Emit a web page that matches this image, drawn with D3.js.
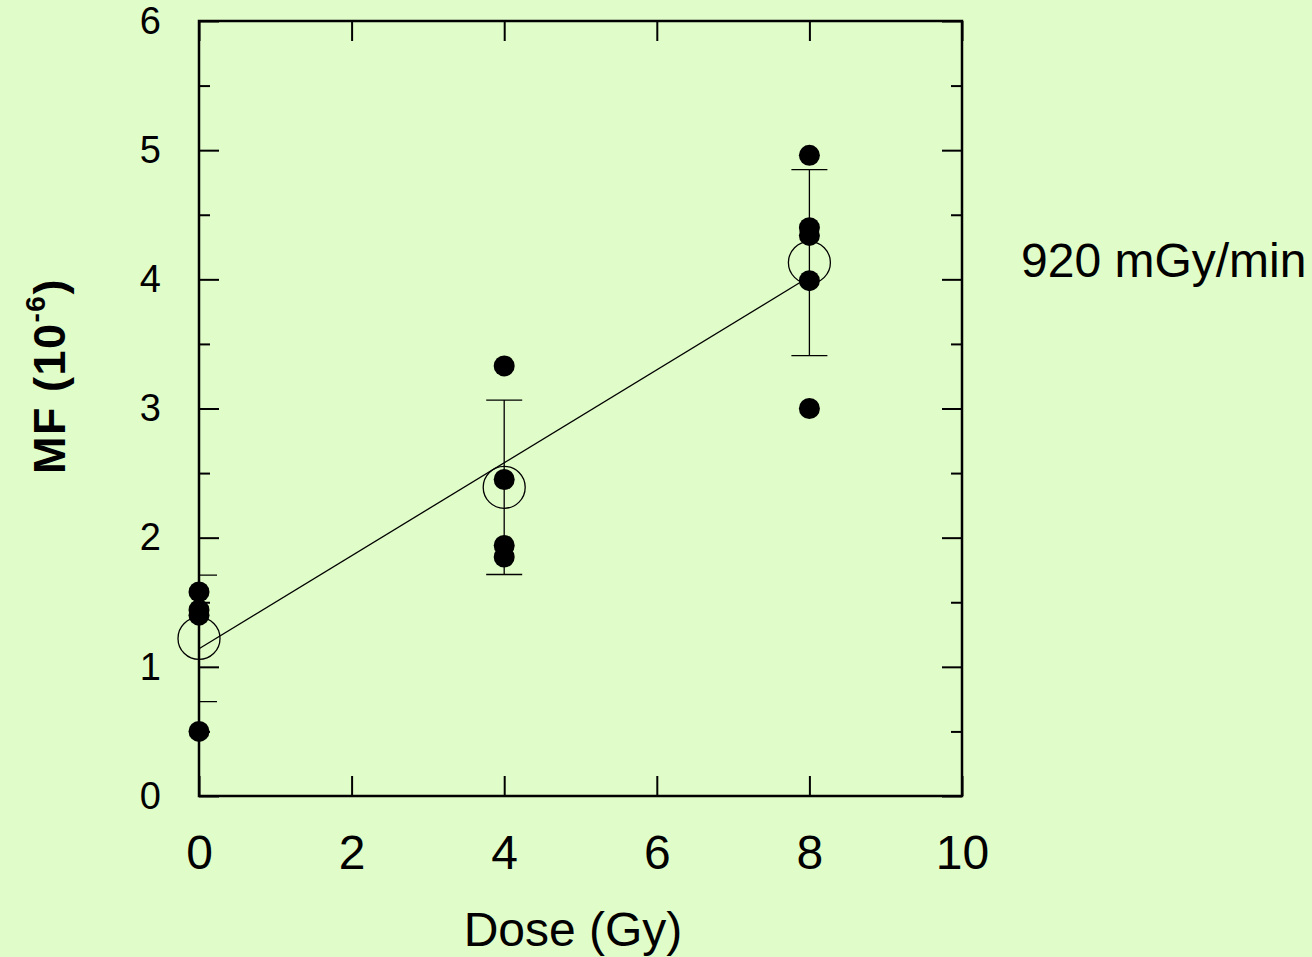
<!DOCTYPE html>
<meta charset="utf-8">
<title>MF vs Dose</title>
<style>
  html, body { margin: 0; padding: 0; background: #e0fcc8; }
  text { font-family: "Liberation Sans", Arial, sans-serif; fill: #000; }
</style>
<body>
<script src="https://d3js.org/d3.v7.min.js"></script>
<script>

// individual measurements
var doses = [0, 0, 0, 0, 4, 4, 4, 4, 8, 8, 8, 8, 8];
var mfValues = [1.58, 1.44, 1.40, 0.50, 3.33, 2.45, 1.94, 1.85, 4.96, 4.40, 4.34, 3.99, 3.00];

// group means with error
var meanDoses = [0, 4, 8];
var meanValues = [1.22, 2.39, 4.13];
var errValues = [0.49, 0.675, 0.72];

// fitted line (endpoints of the fit)
var fitDoses = [0, 8];
var fitValues = [1.14, 4.02];

var xTicks = [0, 2, 4, 6, 8, 10];
var yTicks = [0, 1, 2, 3, 4, 5, 6];
var yMinorTicks = [0.5, 1.5, 2.5, 3.5, 4.5, 5.5];

var width = 1312,
    height = 957;

var x = d3.scaleLinear().domain([0, 10]).range([199, 962]);
var y = d3.scaleLinear().domain([0, 6]).range([796, 21]);

var svg = d3.select("body").append("svg")
    .attr("width", width)
    .attr("height", height);

svg.append("rect")
    .attr("width", width)
    .attr("height", height)
    .attr("fill", "#e0fcc8");

// clip for error caps
svg.append("clipPath").attr("id", "plotclip")
  .append("rect")
    .attr("x", x(0)).attr("y", y(6))
    .attr("width", x(10) - x(0)).attr("height", y(0) - y(6));

// axes, ticks pointing inward
function styleAxis(g) {
  g.select(".domain").remove();
  g.selectAll(".tick line").attr("stroke", "#000").attr("stroke-width", 2);
}

svg.append("g")
    .attr("transform", "translate(0," + y(0) + ")")
    .call(d3.axisBottom(x).tickValues(xTicks).tickSize(-20).tickPadding(39).tickFormat(d3.format("d")))
    .call(styleAxis)
    .selectAll("text").attr("font-size", 48);

svg.append("g")
    .attr("transform", "translate(0," + y(6) + ")")
    .call(d3.axisTop(x).tickValues(xTicks).tickSize(-20).tickFormat(""))
    .call(styleAxis);

svg.append("g")
    .attr("transform", "translate(" + x(0) + ",0)")
    .call(d3.axisLeft(y).tickValues(yTicks).tickSize(-20).tickPadding(38).tickFormat(d3.format("d")))
    .call(styleAxis)
    .selectAll("text").attr("font-size", 38);

svg.append("g")
    .attr("transform", "translate(" + x(0) + ",0)")
    .call(d3.axisLeft(y).tickValues(yMinorTicks).tickSize(-11).tickFormat(""))
    .call(styleAxis);

svg.append("g")
    .attr("transform", "translate(" + x(10) + ",0)")
    .call(d3.axisRight(y).tickValues(yTicks).tickSize(-20).tickFormat(""))
    .call(styleAxis);

svg.append("g")
    .attr("transform", "translate(" + x(10) + ",0)")
    .call(d3.axisRight(y).tickValues(yMinorTicks).tickSize(-11).tickFormat(""))
    .call(styleAxis);

// frame
svg.append("rect")
    .attr("x", x(0)).attr("y", y(6))
    .attr("width", x(10) - x(0)).attr("height", y(0) - y(6))
    .attr("fill", "none")
    .attr("stroke", "#000")
    .attr("stroke-width", 2.5);

// fit line
var line = d3.line()
    .x(function(d) { return x(d[0]); })
    .y(function(d) { return y(d[1]); });

svg.append("path")
    .datum(d3.zip(fitDoses, fitValues))
    .attr("d", line)
    .attr("fill", "none")
    .attr("stroke", "#000")
    .attr("stroke-width", 1.3);

// error bars
var means = d3.zip(meanDoses, meanValues, errValues);
var eb = svg.append("g").attr("clip-path", "url(#plotclip)");

eb.selectAll("line.v")
    .data(means)
    .enter().append("line")
    .attr("x1", function(d) { return x(d[0]); })
    .attr("x2", function(d) { return x(d[0]); })
    .attr("y1", function(d) { return y(d[1] - d[2]); })
    .attr("y2", function(d) { return y(d[1] + d[2]); })
    .attr("stroke", "#000")
    .attr("stroke-width", 1.3);

[-1, 1].forEach(function(s) {
  eb.selectAll(null)
      .data(means)
      .enter().append("line")
      .attr("x1", function(d) { return x(d[0]) - 18; })
      .attr("x2", function(d) { return x(d[0]) + 18; })
      .attr("y1", function(d) { return y(d[1] + s * d[2]); })
      .attr("y2", function(d) { return y(d[1] + s * d[2]); })
      .attr("stroke", "#000")
      .attr("stroke-width", 1.3);
});

// mean open circles
svg.selectAll("circle.mean")
    .data(means)
    .enter().append("circle")
    .attr("class", "mean")
    .attr("cx", function(d) { return x(d[0]); })
    .attr("cy", function(d) { return y(d[1]); })
    .attr("r", 21)
    .attr("fill", "none")
    .attr("stroke", "#000")
    .attr("stroke-width", 1.3);

// data points
svg.selectAll("circle.pt")
    .data(d3.zip(doses, mfValues))
    .enter().append("circle")
    .attr("class", "pt")
    .attr("cx", function(d) { return x(d[0]); })
    .attr("cy", function(d) { return y(d[1]); })
    .attr("r", 10.5)
    .attr("fill", "#000");

// axis titles
svg.append("text")
    .attr("x", 573)
    .attr("y", 946)
    .attr("text-anchor", "middle")
    .attr("font-size", 48)
    .text("Dose (Gy)");

var yt = svg.append("text")
    .attr("transform", "translate(65,376) rotate(-90)")
    .attr("text-anchor", "middle")
    .attr("font-size", 45)
    .attr("font-weight", "bold")
    .attr("letter-spacing", 1.5);
yt.append("tspan").text("MF (10");
yt.append("tspan").attr("font-size", 28).attr("dy", -20).text("-6");
yt.append("tspan").attr("dy", 20).text(")");

svg.append("text")
    .attr("x", 1021)
    .attr("y", 277)
    .attr("font-size", 48)
    .text("920 mGy/min");

</script>
